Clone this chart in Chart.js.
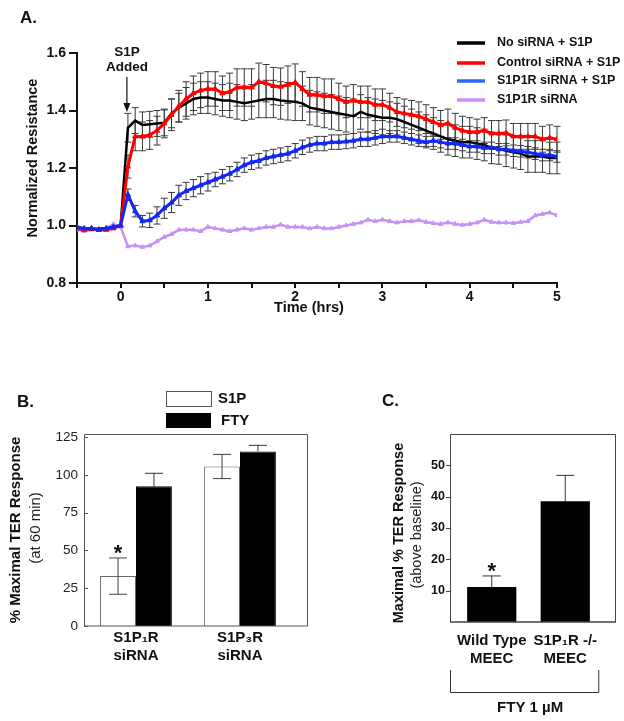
<!DOCTYPE html>
<html lang="en">
<head>
<meta charset="UTF-8">
<title>S1P1R siRNA and TER response</title>
<script src="https://cdn.jsdelivr.net/npm/chart.js"></script>
<style>
  body { margin: 0; background: #fff; }
  #fig { position: relative; width: 624px; height: 721px; }
  #fig canvas { position: absolute; }
</style>
</head>
<body>
<div id="fig">
  <canvas id="chartA" width="624" height="330" style="left:0;top:0;width:624px;height:330px"></canvas>
  <canvas id="chartB" width="330" height="320" style="left:0;top:360px;width:330px;height:320px"></canvas>
  <canvas id="chartC" width="244" height="341" style="left:380px;top:380px;width:244px;height:341px"></canvas>
</div>
<script>
const FONT = "'Liberation Sans', Arial, sans-serif";

// ---- Panel A: normalized resistance over time (minutes after S1P) ----
const minutes = [-30,-25,-20,-15,-10,-5,0,5,10,15,20,25,30,35,40,45,50,55,60,
  65,70,75,80,85,90,95,100,105,110,115,120,125,130,135,140,145,150,155,160,165,170,175,180,
  185,190,195,200,205,210,215,220,225,230,235,240,245,250,255,260,265,270,275,280,285,290,295,300];

const noSiRNA = [0.99,0.99,0.985,0.99,0.99,0.995,1.0,
  1.34,1.365,1.35,1.352,1.355,1.357,1.39,1.41,1.425,1.44,1.445,1.445,
  1.44,1.435,1.435,1.43,1.425,1.43,1.435,1.44,1.44,1.435,1.432,1.43,
  1.425,1.41,1.405,1.40,1.395,1.39,1.385,1.38,1.395,1.385,1.38,1.375,
  1.375,1.37,1.36,1.35,1.34,1.33,1.32,1.31,1.30,1.295,1.29,1.29,
  1.285,1.28,1.27,1.268,1.26,1.255,1.25,1.24,1.24,1.24,1.235,1.235];
const noSiRNAErr = [0,0,0,0,0,0,0,
  0.05,0.045,0.045,0.045,0.045,0.045,0.05,0.05,0.055,0.055,0.055,0.055,
  0.055,0.055,0.06,0.06,0.06,0.06,0.06,0.065,0.065,0.065,0.065,0.065,
  0.06,0.06,0.06,0.06,0.06,0.06,0.06,0.06,0.06,0.06,0.06,0.06,
  0.055,0.055,0.055,0.055,0.055,0.055,0.055,0.055,0.055,0.055,0.055,0.055,
  0.055,0.055,0.055,0.055,0.055,0.055,0.055,0.055,0.055,0.055,0.055,0.055];

const controlSiRNA = [0.99,0.985,0.99,0.985,0.985,0.99,1.0,
  1.205,1.31,1.31,1.315,1.33,1.355,1.385,1.415,1.44,1.46,1.47,1.475,
  1.475,1.46,1.465,1.48,1.48,1.48,1.50,1.495,1.485,1.483,1.49,1.497,
  1.475,1.455,1.455,1.45,1.45,1.44,1.43,1.435,1.43,1.43,1.42,1.42,
  1.41,1.395,1.39,1.385,1.38,1.37,1.36,1.35,1.355,1.34,1.33,1.325,
  1.325,1.33,1.32,1.32,1.322,1.31,1.31,1.31,1.31,1.30,1.305,1.30];
const controlErr = [0,0,0,0,0,0,0,
  0.04,0.05,0.05,0.05,0.05,0.05,0.055,0.055,0.06,0.06,0.06,0.06,
  0.06,0.06,0.065,0.065,0.065,0.065,0.065,0.065,0.065,0.065,0.065,0.065,
  0.06,0.06,0.06,0.06,0.06,0.055,0.055,0.055,0.055,0.055,0.055,0.055,
  0.05,0.05,0.05,0.05,0.05,0.05,0.05,0.05,0.05,0.05,0.05,0.05,
  0.045,0.045,0.045,0.045,0.045,0.045,0.045,0.045,0.045,0.045,0.045,0.045];

const s1p1rSiRNA = [0.995,0.99,0.99,0.985,0.99,0.995,1.0,
  1.107,1.05,1.015,1.018,1.035,1.06,1.08,1.105,1.12,1.13,1.14,1.15,
  1.16,1.17,1.18,1.195,1.21,1.22,1.225,1.235,1.24,1.245,1.25,1.26,
  1.272,1.28,1.285,1.285,1.29,1.29,1.292,1.295,1.30,1.30,1.305,1.31,
  1.31,1.31,1.305,1.30,1.295,1.29,1.295,1.29,1.285,1.285,1.28,1.275,
  1.275,1.27,1.27,1.265,1.265,1.26,1.258,1.255,1.25,1.245,1.245,1.24];
const s1p1rErr = [0,0,0,0,0,0,0,
  0.02,0.02,0.02,0.025,0.03,0.035,0.035,0.035,0.03,0.03,0.03,0.03,
  0.025,0.025,0.025,0.025,0.025,0.025,0.025,0.025,0.025,0.025,0.025,0.025,
  0.025,0.025,0.025,0.025,0.025,0.025,0.025,0.025,0.025,0.025,0.025,0.025,
  0.02,0.02,0.02,0.02,0.02,0.02,0.02,0.02,0.02,0.02,0.02,0.02,
  0.02,0.02,0.02,0.02,0.02,0.02,0.02,0.02,0.02,0.02,0.02,0.02];

const s1p1rOnly = [0.985,0.98,0.985,0.985,0.99,1.005,0.995,
  0.927,0.93,0.925,0.93,0.945,0.96,0.97,0.985,0.985,0.985,0.98,0.995,
  0.99,0.985,0.98,0.985,0.99,0.985,0.99,0.995,0.995,1.003,0.995,0.995,
  0.995,0.99,0.995,0.99,0.99,0.995,1.0,1.005,1.01,1.02,1.015,1.02,
  1.015,1.01,1.015,1.015,1.018,1.012,1.008,1.005,1.01,1.005,1.002,1.005,
  1.01,1.02,1.012,1.01,1.01,1.008,1.012,1.015,1.035,1.04,1.045,1.035];

const seriesNames = ['No siRNA + S1P', 'Control siRNA + S1P', 'S1P1R siRNA + S1P', 'S1P1R siRNA'];

// ---- Panel B: % maximal TER response at 60 min ----
const bCategories = [['S1P\u2081R', 'siRNA'], ['S1P\u2083R', 'siRNA']];
const bS1P = [33, 105.5];
const bS1PErr = [12, 8];
const bFTY = [92.5, 115.5];
const bFTYErr = [8.5, 4];
const bTicks = [0, 25, 50, 75, 100, 125];

// ---- Panel C: FTY 1 uM, maximal % TER above baseline ----
const cCategories = [['Wild Type', 'MEEC'], ['S1P\u2081R -/-', 'MEEC']];
const cFTY = [11.2, 38.5];
const cFTYErr = [3.5, 8.3];
const cTicks = [10, 20, 30, 40, 50];

function pts(vals) {
  return minutes.map((m, i) => ({ x: m / 60, y: vals[i] }));
}

function drawText(ctx, text, x, y, font, opts = {}) {
  ctx.save();
  ctx.font = font;
  ctx.fillStyle = opts.color || '#111';
  ctx.textAlign = opts.align || 'center';
  ctx.textBaseline = opts.baseline || 'middle';
  ctx.translate(x, y);
  if (opts.rotate) ctx.rotate(opts.rotate);
  ctx.fillText(text, 0, 0);
  ctx.restore();
}

function drawErrors(chart, onTop) {
  const ctx = chart.ctx, ys = chart.scales.y;
  chart.data.datasets.forEach((ds, di) => {
    if (!ds.errors || !!ds.errorsOnTop !== onTop) return;
    const meta = chart.getDatasetMeta(di);
    ctx.save();
    ctx.strokeStyle = ds.errorColor || '#333';
    ctx.lineWidth = ds.errorWidth || 1;
    meta.data.forEach((el, i) => {
      const e = ds.errors[i];
      if (!e) return;
      const raw = ds.data[i];
      const v = typeof raw === 'object' ? raw.y : raw;
      const cap = ds.errorCap || 3.5;
      const top = ys.getPixelForValue(v + e);
      const bot = ds.errorUpOnly ? el.y : ys.getPixelForValue(v - e);
      ctx.beginPath();
      ctx.moveTo(el.x, top); ctx.lineTo(el.x, bot);
      ctx.moveTo(el.x - cap, top); ctx.lineTo(el.x + cap, top);
      if (!ds.errorUpOnly) { ctx.moveTo(el.x - cap, bot); ctx.lineTo(el.x + cap, bot); }
      ctx.stroke();
    });
    ctx.restore();
  });
}

const errorBarPlugin = {
  id: 'errorBars',
  beforeDatasetsDraw(chart) { drawErrors(chart, false); },
  afterDatasetsDraw(chart) { drawErrors(chart, true); }
};

// panel A extras: legend, titles, S1P arrow
const panelAPlugin = {
  id: 'panelA',
  afterDraw(chart) {
    const ctx = chart.ctx;
    const xs = chart.scales.x;
    drawText(ctx, 'A.', 20, 18, 'bold 17px ' + FONT, { align: 'left' });
    drawText(ctx, 'Normalized Resistance', 33, 158, 'bold 14.5px ' + FONT, { rotate: -Math.PI / 2 });
    drawText(ctx, 'Time (hrs)', 309, 308, 'bold 14.5px ' + FONT);

    // S1P added marker
    const ax = xs.getPixelForValue(minutes[7] / 60) - 1;
    drawText(ctx, 'S1P', ax, 52, 'bold 13.5px ' + FONT);
    drawText(ctx, 'Added', ax, 67, 'bold 13.5px ' + FONT);
    ctx.save();
    ctx.strokeStyle = '#111'; ctx.fillStyle = '#111'; ctx.lineWidth = 1.2;
    ctx.beginPath(); ctx.moveTo(ax, 77); ctx.lineTo(ax, 104); ctx.stroke();
    ctx.beginPath(); ctx.moveTo(ax - 3.5, 103); ctx.lineTo(ax + 3.5, 103); ctx.lineTo(ax, 112); ctx.closePath(); ctx.fill();
    ctx.restore();

    // legend
    const rows = [43, 63, 81, 100];
    chart.data.datasets.forEach((ds, i) => {
      ctx.save();
      ctx.strokeStyle = ds.legendColor || ds.borderColor;
      ctx.lineWidth = 3.5;
      ctx.beginPath(); ctx.moveTo(457, rows[i]); ctx.lineTo(485, rows[i]); ctx.stroke();
      ctx.restore();
      drawText(ctx, ds.label, 497, rows[i], 'bold 12.5px ' + FONT, { align: 'left' });
    });
  }
};

new Chart(document.getElementById('chartA'), {
  type: 'line',
  data: {
    datasets: [
      { label: seriesNames[0], data: pts(noSiRNA), errors: noSiRNAErr, errorColor: '#3a3a3a',
        borderColor: '#000', backgroundColor: '#000', borderWidth: 2.5, pointRadius: 0, order: 3 },
      { label: seriesNames[1], data: pts(controlSiRNA), errors: controlErr, errorColor: '#3a3a3a',
        borderColor: '#ff0000', backgroundColor: '#ff0000', borderWidth: 3,
        pointStyle: 'triangle', pointRadius: 3, pointBorderWidth: 1, order: 2 },
      { label: seriesNames[2], data: pts(s1p1rSiRNA), errors: s1p1rErr, errorColor: '#3a3a3a',
        borderColor: '#1428f0', backgroundColor: '#1428f0', legendColor: '#3366ff', borderWidth: 3,
        pointStyle: 'triangle', pointRadius: 3, pointBorderWidth: 1, order: 1 },
      { label: seriesNames[3], data: pts(s1p1rOnly),
        borderColor: '#c493f5', backgroundColor: '#c493f5', borderWidth: 2.5,
        pointStyle: 'triangle', pointRadius: 2.5, pointBorderWidth: 1, order: 4 }
    ]
  },
  options: {
    responsive: false,
    animation: false,
    layout: { padding: { top: 53, right: 67, left: 0, bottom: 0 } },
    plugins: { legend: { display: false }, tooltip: { enabled: false } },
    scales: {
      x: {
        type: 'linear', min: -0.5, max: 5,
        afterFit: s => { s.height = 47; },
        border: { color: '#111', width: 2 },
        grid: { drawOnChartArea: false, color: '#111', lineWidth: 2, tickLength: 5 },
        ticks: {
          stepSize: 0.5, padding: 1, color: '#111', maxRotation: 0, autoSkip: false,
          font: { family: FONT, size: 14, weight: 'bold' },
          callback: v => Number.isInteger(v) ? String(v) : ''
        }
      },
      y: {
        min: 0.8, max: 1.6,
        afterFit: s => { s.width = 77; },
        border: { color: '#111', width: 2 },
        grid: { drawOnChartArea: false, color: '#111', lineWidth: 2, tickLength: 8 },
        ticks: {
          stepSize: 0.2, padding: 3, color: '#111',
          font: { family: FONT, size: 14, weight: 'bold' },
          callback: v => v.toFixed(1)
        }
      }
    }
  },
  plugins: [errorBarPlugin, panelAPlugin]
});

// frame box around bar panels, with small ticks on the left side
function frameBox(chart, ext, tickDir, color, bottomWidth) {
  const ctx = chart.ctx, a = chart.chartArea, ys = chart.scales.y;
  const l = a.left + ext.left, r = a.right + ext.right, t = a.top, b = a.bottom;
  ctx.save();
  ctx.strokeStyle = color; ctx.lineWidth = 1;
  ctx.beginPath();
  ctx.moveTo(l + 0.5, b); ctx.lineTo(l + 0.5, t + 0.5); ctx.lineTo(r - 0.5, t + 0.5); ctx.lineTo(r - 0.5, b);
  ys.ticks.forEach(tk => {
    const y = Math.round(ys.getPixelForValue(tk.value)) + 0.5;
    ctx.moveTo(l, y); ctx.lineTo(l + tickDir, y);
  });
  ctx.stroke();
  ctx.lineWidth = bottomWidth;
  ctx.beginPath(); ctx.moveTo(l, b); ctx.lineTo(r, b); ctx.stroke();
  ctx.restore();
  return { l, r, t, b };
}

function asterisk(chart, di, idx, err) {
  const meta = chart.getDatasetMeta(di);
  const el = meta.data[idx];
  const v = chart.data.datasets[di].data[idx];
  const top = chart.scales.y.getPixelForValue(v + err);
  drawText(chart.ctx, '*', el.x, top + 2, 'bold 22px ' + FONT, { baseline: 'alphabetic' });
}

const panelBPlugin = {
  id: 'panelB',
  afterDraw(chart) {
    const ctx = chart.ctx;
    frameBox(chart, { left: 0, right: 16 }, 4, '#555', 1);
    drawText(ctx, 'B.', 17, 42, 'bold 17px ' + FONT, { align: 'left' });
    drawText(ctx, '% Maximal TER Response', 16, 170, 'bold 15px ' + FONT, { rotate: -Math.PI / 2 });
    drawText(ctx, '(at 60 min)', 36, 168, '15px ' + FONT, { rotate: -Math.PI / 2, color: '#222' });

    // legend boxes
    ctx.save();
    ctx.fillStyle = '#fff'; ctx.strokeStyle = '#555'; ctx.lineWidth = 1;
    ctx.fillRect(166, 31, 45, 15); ctx.strokeRect(166.5, 31.5, 45, 15);
    ctx.fillStyle = '#000'; ctx.fillRect(166, 53, 45, 15);
    ctx.restore();
    drawText(ctx, chart.data.datasets[0].label, 218, 39, 'bold 15px ' + FONT, { align: 'left' });
    drawText(ctx, chart.data.datasets[1].label, 221, 61, 'bold 15px ' + FONT, { align: 'left' });

    asterisk(chart, 0, 0, bS1PErr[0]);
  }
};

new Chart(document.getElementById('chartB'), {
  type: 'bar',
  data: {
    labels: bCategories,
    datasets: [
      { label: 'S1P', data: bS1P, errors: bS1PErr, errorsOnTop: true, errorCap: 9, errorColor: '#444',
        backgroundColor: '#fff', borderColor: '#666', borderWidth: 1 },
      { label: 'FTY', data: bFTY, errors: bFTYErr, errorsOnTop: true, errorUpOnly: true, errorCap: 9, errorColor: '#333',
        backgroundColor: '#000', borderColor: '#000', borderWidth: 1 }
    ]
  },
  options: {
    responsive: false,
    animation: false,
    layout: { padding: { top: 74, right: 38, left: 0, bottom: 0 } },
    datasets: { bar: { barPercentage: 1, categoryPercentage: 0.69 } },
    plugins: { legend: { display: false }, tooltip: { enabled: false } },
    scales: {
      x: {
        afterFit: s => { s.height = 54; },
        grid: { display: false, drawTicks: false },
        border: { display: false },
        ticks: { padding: 3, color: '#111', maxRotation: 0, minRotation: 0, autoSkip: false,
                 font: { family: FONT, size: 15, weight: 'bold' } }
      },
      y: {
        min: 0, max: 127,
        afterFit: s => { s.width = 84; },
        afterBuildTicks: s => { s.ticks = bTicks.map(v => ({ value: v })); },
        grid: { display: false, drawTicks: false },
        border: { display: false },
        ticks: { padding: 6, color: '#222', font: { family: FONT, size: 13.5 } }
      }
    }
  },
  plugins: [errorBarPlugin, panelBPlugin]
});

const panelCPlugin = {
  id: 'panelC',
  afterDraw(chart) {
    const ctx = chart.ctx;
    const f = frameBox(chart, { left: -5, right: 14 }, -4, '#444', 1.5);
    drawText(ctx, 'C.', 2, 21, 'bold 17px ' + FONT, { align: 'left' });
    drawText(ctx, 'Maximal % TER Response', 19, 153, 'bold 14.5px ' + FONT, { rotate: -Math.PI / 2 });
    drawText(ctx, '(above baseline)', 37, 155, '14.5px ' + FONT, { rotate: -Math.PI / 2, color: '#222' });

    // bracket under both groups
    const xs = chart.scales.x;
    const br = xs.getPixelForValue(1) + 33;
    const bt = f.b + 48, bb = f.b + 70;
    ctx.save();
    ctx.strokeStyle = '#333'; ctx.lineWidth = 1;
    ctx.beginPath();
    ctx.moveTo(f.l + 0.5, bt); ctx.lineTo(f.l + 0.5, bb + 0.5); ctx.lineTo(br + 0.5, bb + 0.5); ctx.lineTo(br + 0.5, bt);
    ctx.stroke();
    ctx.restore();
    drawText(ctx, 'FTY 1 \u00b5M', (f.l + br) / 2 + 6, bb + 16, 'bold 15px ' + FONT);

    asterisk(chart, 0, 0, cFTYErr[0]);
  }
};

new Chart(document.getElementById('chartC'), {
  type: 'bar',
  data: {
    labels: cCategories,
    datasets: [
      { label: 'FTY', data: cFTY, errors: cFTYErr, errorsOnTop: true, errorUpOnly: true, errorCap: 9, errorColor: '#333',
        backgroundColor: '#000', borderColor: '#000', borderWidth: 0 }
    ]
  },
  options: {
    responsive: false,
    animation: false,
    layout: { padding: { top: 54, right: 22, left: 0, bottom: 0 } },
    datasets: { bar: { barPercentage: 0.67, categoryPercentage: 1 } },
    plugins: { legend: { display: false }, tooltip: { enabled: false } },
    scales: {
      x: {
        afterFit: s => { s.height = 99; },
        grid: { display: false, drawTicks: false },
        border: { display: false },
        ticks: { padding: 10, color: '#111', maxRotation: 0, minRotation: 0, autoSkip: false,
                 font: { family: FONT, size: 15, weight: 'bold' } }
      },
      y: {
        min: 0, max: 60,
        afterFit: s => { s.width = 75; },
        afterBuildTicks: s => { s.ticks = cTicks.map(v => ({ value: v })); },
        grid: { display: false, drawTicks: false },
        border: { display: false },
        ticks: { padding: 10, color: '#111', font: { family: FONT, size: 12.5, weight: 'bold' } }
      }
    }
  },
  plugins: [errorBarPlugin, panelCPlugin]
});
</script>
</body>
</html>
